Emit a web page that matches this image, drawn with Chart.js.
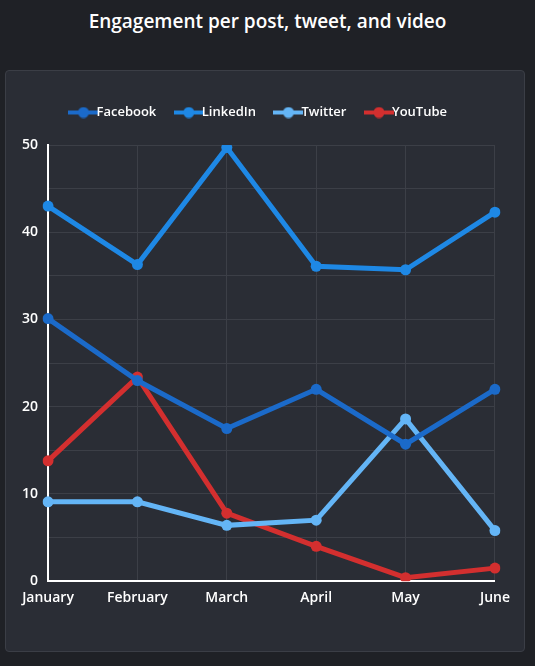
<!DOCTYPE html>
<html><head><meta charset="utf-8">
<script src="https://cdn.jsdelivr.net/npm/chart.js@4/dist/chart.umd.min.js"></script>
<style>
html,body{margin:0;padding:0;background:#1f2126;width:535px;height:666px;overflow:hidden;font-family:"Open Sans",sans-serif}
h1{margin:0;position:absolute;top:8px;left:0;width:535px;text-align:center;color:#fff;font-size:19px;font-weight:600}
#card{position:absolute;left:5px;top:70px;width:518px;height:580px;background:#2a2d35;border:1px solid #3b3e46;border-radius:4px}
#wrap{position:absolute;left:6px;top:9px;width:506px;height:534px}
</style></head><body>
<h1>Engagement per post, tweet, and video</h1>
<div id="card"><div id="wrap"><canvas id="c"></canvas></div></div>
<script>
const categories=["January","February","March","April","May","June"];
const facebook=[30.1,23,17.5,22,15.7,22];
const linkedin=[43,36.3,49.7,36.1,35.7,42.3];
const twitter=[9.1,9.1,6.4,7.0,18.6,5.8];
const youtube=[13.8,23.4,7.8,4.0,0.4,1.5];
const yTicks=[0,10,20,30,40,50];
const names=["Facebook","LinkedIn","Twitter","YouTube"];
const colors=["#1b6ac9","#1e88e5","#64b5f6","#d32f2f"];
function icon(col){const c=document.createElement('canvas');c.width=30;c.height=12;const g=c.getContext('2d');
g.strokeStyle=col;g.lineWidth=4;g.beginPath();g.moveTo(0,6);g.lineTo(30,6);g.stroke();
g.fillStyle=col;g.beginPath();g.arc(15,6,5.5,0,Math.PI*2);g.fill();return c;}
const series=[facebook,linkedin,twitter,youtube];
Chart.defaults.font.family='"Open Sans",sans-serif';
const legendGap={id:'legendGap',beforeInit(ch){const f=ch.legend.fit;ch.legend.fit=function(){f.bind(ch.legend)();this.height+=16;};}};
new Chart(document.getElementById('c'),{type:'line',plugins:[legendGap],
data:{labels:categories,datasets:series.map((d,i)=>({label:names[i],data:d,borderColor:colors[i],backgroundColor:colors[i],borderWidth:5,pointRadius:5.5,pointBorderWidth:0,pointHoverRadius:5.5,tension:0}))},
options:{responsive:true,maintainAspectRatio:false,animation:false,
layout:{padding:{left:0,right:6,top:0,bottom:0}},
plugins:{legend:{labels:{color:'#fff',font:{size:13,weight:'600'},usePointStyle:true,boxWidth:30,boxHeight:12,padding:26,
generateLabels:ch=>ch.data.datasets.map((ds,i)=>({text:ds.label,fillStyle:ds.borderColor,strokeStyle:ds.borderColor,fontColor:'#fff',pointStyle:icon(colors[i]),datasetIndex:i,hidden:false,lineWidth:0}))}}},
scales:{x:{offset:false,grid:{color:'#3c3f47',drawTicks:false},border:{color:'#fff',width:2},ticks:{color:'#fff',font:{size:14,weight:'600'},padding:8,maxRotation:0}},
y:{min:0,max:50,grid:{color:'#3c3f47',drawTicks:false},border:{color:'#fff',width:2},
afterBuildTicks:ax=>{ax.ticks=[];for(let v=0;v<=50;v+=5)ax.ticks.push({value:v});},
ticks:{color:'#fff',font:{size:14,weight:'600'},padding:10,autoSkip:false,callback:v=>yTicks.includes(v)?v:''}}}}});
</script></body></html>
